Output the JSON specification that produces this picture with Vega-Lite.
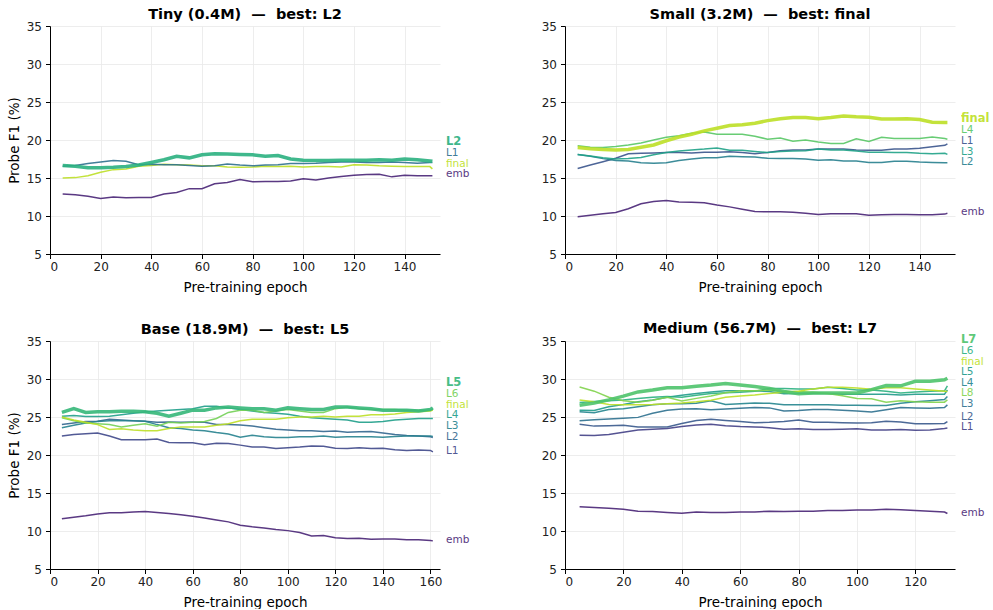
{
"$schema":"https://vega.github.io/schema/vega-lite/v6.json",
"padding":{"left":7,"top":6,"right":0,"bottom":0},
"bounds":"flush",
"columns":2,
"spacing":{"row":87,"column":125},
"resolve":{"scale":{"color":"independent"}},
"config":{
 "font":"DejaVu Sans",
 "view":{"stroke":null},
 "axis":{"domainColor":"#000","tickColor":"#000","labelColor":"#222","titleColor":"#000","gridColor":"#e8e8e8","gridWidth":0.8,"tickSize":4.5,"labelFontSize":12,"titleFontSize":13.5,"titleFontWeight":"normal","domainWidth":1,"labelFont":"DejaVu Sans","titleFont":"DejaVu Sans","labelOverlap":false,"tickCount":12},
 "axisX":{"titlePadding":8,"labelPadding":3},
 "axisY":{"titlePadding":5,"labelPadding":4},
 "title":{"fontSize":14.5,"fontWeight":"bold","offset":-2,"font":"DejaVu Sans","color":"#000"},
 "text":{"fontSize":10.5}
},
"datasets":{
"labels":[
{"panel":"Tiny","layer":"L2","f1":19.68},{"panel":"Tiny","layer":"L1","f1":18.29},{"panel":"Tiny","layer":"final","f1":16.88},{"panel":"Tiny","layer":"emb","f1":15.47},
{"panel":"Small","layer":"final","f1":22.76},{"panel":"Small","layer":"L4","f1":21.32},{"panel":"Small","layer":"L1","f1":19.91},{"panel":"Small","layer":"L3","f1":18.46},{"panel":"Small","layer":"L2","f1":17.05},{"panel":"Small","layer":"emb","f1":10.47},
{"panel":"Base","layer":"L5","f1":29.51},{"panel":"Base","layer":"L6","f1":28.06},{"panel":"Base","layer":"final","f1":26.62},{"panel":"Base","layer":"L4","f1":25.22},{"panel":"Base","layer":"L3","f1":23.82},{"panel":"Base","layer":"L2","f1":22.41},{"panel":"Base","layer":"L1","f1":20.57},{"panel":"Base","layer":"emb","f1":8.77},
{"panel":"Medium","layer":"L7","f1":35.13},{"panel":"Medium","layer":"L6","f1":33.68},{"panel":"Medium","layer":"final","f1":32.28},{"panel":"Medium","layer":"L5","f1":30.92},{"panel":"Medium","layer":"L4","f1":29.51},{"panel":"Medium","layer":"L8","f1":28.12},{"panel":"Medium","layer":"L3","f1":26.71},{"panel":"Medium","layer":"L2","f1":25.04},{"panel":"Medium","layer":"L1","f1":23.64},{"panel":"Medium","layer":"emb","f1":12.4}
],
"curves":[
{"panel":"Tiny","layer":"emb","epoch":5,"f1":12.9},{"panel":"Tiny","layer":"emb","epoch":10,"f1":12.8},{"panel":"Tiny","layer":"emb","epoch":15,"f1":12.6},{"panel":"Tiny","layer":"emb","epoch":20,"f1":12.3},{"panel":"Tiny","layer":"emb","epoch":25,"f1":12.5},{"panel":"Tiny","layer":"emb","epoch":30,"f1":12.4},{"panel":"Tiny","layer":"emb","epoch":35,"f1":12.45},{"panel":"Tiny","layer":"emb","epoch":40,"f1":12.45},{"panel":"Tiny","layer":"emb","epoch":45,"f1":12.9},{"panel":"Tiny","layer":"emb","epoch":50,"f1":13.1},{"panel":"Tiny","layer":"emb","epoch":55,"f1":13.6},{"panel":"Tiny","layer":"emb","epoch":60,"f1":13.6},{"panel":"Tiny","layer":"emb","epoch":65,"f1":14.25},{"panel":"Tiny","layer":"emb","epoch":70,"f1":14.4},{"panel":"Tiny","layer":"emb","epoch":75,"f1":14.8},{"panel":"Tiny","layer":"emb","epoch":80,"f1":14.5},{"panel":"Tiny","layer":"emb","epoch":85,"f1":14.55},{"panel":"Tiny","layer":"emb","epoch":90,"f1":14.55},{"panel":"Tiny","layer":"emb","epoch":95,"f1":14.6},{"panel":"Tiny","layer":"emb","epoch":100,"f1":14.9},{"panel":"Tiny","layer":"emb","epoch":105,"f1":14.75},{"panel":"Tiny","layer":"emb","epoch":110,"f1":15.0},{"panel":"Tiny","layer":"emb","epoch":115,"f1":15.2},{"panel":"Tiny","layer":"emb","epoch":120,"f1":15.35},{"panel":"Tiny","layer":"emb","epoch":125,"f1":15.45},{"panel":"Tiny","layer":"emb","epoch":130,"f1":15.5},{"panel":"Tiny","layer":"emb","epoch":135,"f1":15.15},{"panel":"Tiny","layer":"emb","epoch":140,"f1":15.35},{"panel":"Tiny","layer":"emb","epoch":145,"f1":15.3},{"panel":"Tiny","layer":"emb","epoch":150,"f1":15.3},{"panel":"Tiny","layer":"emb","epoch":151,"f1":15.3},
{"panel":"Tiny","layer":"final","epoch":5,"f1":15.0},{"panel":"Tiny","layer":"final","epoch":10,"f1":15.05},{"panel":"Tiny","layer":"final","epoch":15,"f1":15.3},{"panel":"Tiny","layer":"final","epoch":20,"f1":15.75},{"panel":"Tiny","layer":"final","epoch":25,"f1":16.1},{"panel":"Tiny","layer":"final","epoch":30,"f1":16.2},{"panel":"Tiny","layer":"final","epoch":35,"f1":16.55},{"panel":"Tiny","layer":"final","epoch":40,"f1":16.65},{"panel":"Tiny","layer":"final","epoch":45,"f1":16.8},{"panel":"Tiny","layer":"final","epoch":50,"f1":16.75},{"panel":"Tiny","layer":"final","epoch":55,"f1":16.7},{"panel":"Tiny","layer":"final","epoch":60,"f1":16.6},{"panel":"Tiny","layer":"final","epoch":65,"f1":16.6},{"panel":"Tiny","layer":"final","epoch":70,"f1":16.45},{"panel":"Tiny","layer":"final","epoch":75,"f1":16.4},{"panel":"Tiny","layer":"final","epoch":80,"f1":16.45},{"panel":"Tiny","layer":"final","epoch":85,"f1":16.55},{"panel":"Tiny","layer":"final","epoch":90,"f1":16.5},{"panel":"Tiny","layer":"final","epoch":95,"f1":16.55},{"panel":"Tiny","layer":"final","epoch":100,"f1":16.45},{"panel":"Tiny","layer":"final","epoch":105,"f1":16.5},{"panel":"Tiny","layer":"final","epoch":110,"f1":16.5},{"panel":"Tiny","layer":"final","epoch":115,"f1":16.45},{"panel":"Tiny","layer":"final","epoch":120,"f1":16.75},{"panel":"Tiny","layer":"final","epoch":125,"f1":16.7},{"panel":"Tiny","layer":"final","epoch":130,"f1":16.6},{"panel":"Tiny","layer":"final","epoch":135,"f1":16.55},{"panel":"Tiny","layer":"final","epoch":140,"f1":16.5},{"panel":"Tiny","layer":"final","epoch":145,"f1":16.5},{"panel":"Tiny","layer":"final","epoch":150,"f1":16.5},{"panel":"Tiny","layer":"final","epoch":151,"f1":16.2},
{"panel":"Tiny","layer":"L1","epoch":5,"f1":16.55},{"panel":"Tiny","layer":"L1","epoch":10,"f1":16.65},{"panel":"Tiny","layer":"L1","epoch":15,"f1":16.9},{"panel":"Tiny","layer":"L1","epoch":20,"f1":17.1},{"panel":"Tiny","layer":"L1","epoch":25,"f1":17.3},{"panel":"Tiny","layer":"L1","epoch":30,"f1":17.2},{"panel":"Tiny","layer":"L1","epoch":35,"f1":16.75},{"panel":"Tiny","layer":"L1","epoch":40,"f1":16.8},{"panel":"Tiny","layer":"L1","epoch":45,"f1":16.75},{"panel":"Tiny","layer":"L1","epoch":50,"f1":16.75},{"panel":"Tiny","layer":"L1","epoch":55,"f1":16.65},{"panel":"Tiny","layer":"L1","epoch":60,"f1":16.55},{"panel":"Tiny","layer":"L1","epoch":65,"f1":16.6},{"panel":"Tiny","layer":"L1","epoch":70,"f1":16.85},{"panel":"Tiny","layer":"L1","epoch":75,"f1":16.7},{"panel":"Tiny","layer":"L1","epoch":80,"f1":16.6},{"panel":"Tiny","layer":"L1","epoch":85,"f1":16.7},{"panel":"Tiny","layer":"L1","epoch":90,"f1":16.75},{"panel":"Tiny","layer":"L1","epoch":95,"f1":16.9},{"panel":"Tiny","layer":"L1","epoch":100,"f1":16.9},{"panel":"Tiny","layer":"L1","epoch":105,"f1":16.95},{"panel":"Tiny","layer":"L1","epoch":110,"f1":17.05},{"panel":"Tiny","layer":"L1","epoch":115,"f1":17.1},{"panel":"Tiny","layer":"L1","epoch":120,"f1":17.1},{"panel":"Tiny","layer":"L1","epoch":125,"f1":17.05},{"panel":"Tiny","layer":"L1","epoch":130,"f1":17.05},{"panel":"Tiny","layer":"L1","epoch":135,"f1":17.1},{"panel":"Tiny","layer":"L1","epoch":140,"f1":17.05},{"panel":"Tiny","layer":"L1","epoch":145,"f1":16.95},{"panel":"Tiny","layer":"L1","epoch":150,"f1":17.05},{"panel":"Tiny","layer":"L1","epoch":151,"f1":17.05},
{"panel":"Tiny","layer":"L2","epoch":5,"f1":16.65},{"panel":"Tiny","layer":"L2","epoch":10,"f1":16.55},{"panel":"Tiny","layer":"L2","epoch":15,"f1":16.35},{"panel":"Tiny","layer":"L2","epoch":20,"f1":16.35},{"panel":"Tiny","layer":"L2","epoch":25,"f1":16.4},{"panel":"Tiny","layer":"L2","epoch":30,"f1":16.5},{"panel":"Tiny","layer":"L2","epoch":35,"f1":16.7},{"panel":"Tiny","layer":"L2","epoch":40,"f1":17.05},{"panel":"Tiny","layer":"L2","epoch":45,"f1":17.4},{"panel":"Tiny","layer":"L2","epoch":50,"f1":17.85},{"panel":"Tiny","layer":"L2","epoch":55,"f1":17.65},{"panel":"Tiny","layer":"L2","epoch":60,"f1":18.05},{"panel":"Tiny","layer":"L2","epoch":65,"f1":18.2},{"panel":"Tiny","layer":"L2","epoch":70,"f1":18.15},{"panel":"Tiny","layer":"L2","epoch":75,"f1":18.1},{"panel":"Tiny","layer":"L2","epoch":80,"f1":18.05},{"panel":"Tiny","layer":"L2","epoch":85,"f1":17.85},{"panel":"Tiny","layer":"L2","epoch":90,"f1":17.95},{"panel":"Tiny","layer":"L2","epoch":95,"f1":17.5},{"panel":"Tiny","layer":"L2","epoch":100,"f1":17.35},{"panel":"Tiny","layer":"L2","epoch":105,"f1":17.3},{"panel":"Tiny","layer":"L2","epoch":110,"f1":17.3},{"panel":"Tiny","layer":"L2","epoch":115,"f1":17.35},{"panel":"Tiny","layer":"L2","epoch":120,"f1":17.35},{"panel":"Tiny","layer":"L2","epoch":125,"f1":17.35},{"panel":"Tiny","layer":"L2","epoch":130,"f1":17.4},{"panel":"Tiny","layer":"L2","epoch":135,"f1":17.35},{"panel":"Tiny","layer":"L2","epoch":140,"f1":17.5},{"panel":"Tiny","layer":"L2","epoch":145,"f1":17.4},{"panel":"Tiny","layer":"L2","epoch":150,"f1":17.25},{"panel":"Tiny","layer":"L2","epoch":151,"f1":17.2},
{"panel":"Small","layer":"emb","epoch":5,"f1":9.9},{"panel":"Small","layer":"emb","epoch":10,"f1":10.1},{"panel":"Small","layer":"emb","epoch":15,"f1":10.3},{"panel":"Small","layer":"emb","epoch":20,"f1":10.45},{"panel":"Small","layer":"emb","epoch":25,"f1":10.95},{"panel":"Small","layer":"emb","epoch":30,"f1":11.6},{"panel":"Small","layer":"emb","epoch":35,"f1":11.9},{"panel":"Small","layer":"emb","epoch":40,"f1":12.05},{"panel":"Small","layer":"emb","epoch":45,"f1":11.85},{"panel":"Small","layer":"emb","epoch":50,"f1":11.8},{"panel":"Small","layer":"emb","epoch":55,"f1":11.75},{"panel":"Small","layer":"emb","epoch":60,"f1":11.45},{"panel":"Small","layer":"emb","epoch":65,"f1":11.2},{"panel":"Small","layer":"emb","epoch":70,"f1":10.9},{"panel":"Small","layer":"emb","epoch":75,"f1":10.6},{"panel":"Small","layer":"emb","epoch":80,"f1":10.55},{"panel":"Small","layer":"emb","epoch":85,"f1":10.55},{"panel":"Small","layer":"emb","epoch":90,"f1":10.5},{"panel":"Small","layer":"emb","epoch":95,"f1":10.35},{"panel":"Small","layer":"emb","epoch":100,"f1":10.2},{"panel":"Small","layer":"emb","epoch":105,"f1":10.3},{"panel":"Small","layer":"emb","epoch":110,"f1":10.3},{"panel":"Small","layer":"emb","epoch":115,"f1":10.3},{"panel":"Small","layer":"emb","epoch":120,"f1":10.1},{"panel":"Small","layer":"emb","epoch":125,"f1":10.15},{"panel":"Small","layer":"emb","epoch":130,"f1":10.2},{"panel":"Small","layer":"emb","epoch":135,"f1":10.2},{"panel":"Small","layer":"emb","epoch":140,"f1":10.15},{"panel":"Small","layer":"emb","epoch":145,"f1":10.15},{"panel":"Small","layer":"emb","epoch":150,"f1":10.25},{"panel":"Small","layer":"emb","epoch":151,"f1":10.35},
{"panel":"Small","layer":"L1","epoch":5,"f1":16.25},{"panel":"Small","layer":"L1","epoch":10,"f1":16.7},{"panel":"Small","layer":"L1","epoch":15,"f1":17.15},{"panel":"Small","layer":"L1","epoch":20,"f1":17.6},{"panel":"Small","layer":"L1","epoch":25,"f1":18.2},{"panel":"Small","layer":"L1","epoch":30,"f1":18.25},{"panel":"Small","layer":"L1","epoch":35,"f1":18.3},{"panel":"Small","layer":"L1","epoch":40,"f1":18.35},{"panel":"Small","layer":"L1","epoch":45,"f1":18.35},{"panel":"Small","layer":"L1","epoch":50,"f1":18.3},{"panel":"Small","layer":"L1","epoch":55,"f1":18.4},{"panel":"Small","layer":"L1","epoch":60,"f1":18.4},{"panel":"Small","layer":"L1","epoch":65,"f1":18.45},{"panel":"Small","layer":"L1","epoch":70,"f1":18.35},{"panel":"Small","layer":"L1","epoch":75,"f1":18.2},{"panel":"Small","layer":"L1","epoch":80,"f1":18.35},{"panel":"Small","layer":"L1","epoch":85,"f1":18.6},{"panel":"Small","layer":"L1","epoch":90,"f1":18.7},{"panel":"Small","layer":"L1","epoch":95,"f1":18.7},{"panel":"Small","layer":"L1","epoch":100,"f1":18.8},{"panel":"Small","layer":"L1","epoch":105,"f1":18.8},{"panel":"Small","layer":"L1","epoch":110,"f1":18.8},{"panel":"Small","layer":"L1","epoch":115,"f1":18.7},{"panel":"Small","layer":"L1","epoch":120,"f1":18.65},{"panel":"Small","layer":"L1","epoch":125,"f1":18.65},{"panel":"Small","layer":"L1","epoch":130,"f1":18.8},{"panel":"Small","layer":"L1","epoch":135,"f1":18.8},{"panel":"Small","layer":"L1","epoch":140,"f1":18.9},{"panel":"Small","layer":"L1","epoch":145,"f1":19.1},{"panel":"Small","layer":"L1","epoch":150,"f1":19.3},{"panel":"Small","layer":"L1","epoch":151,"f1":19.5},
{"panel":"Small","layer":"L2","epoch":5,"f1":18.1},{"panel":"Small","layer":"L2","epoch":10,"f1":17.85},{"panel":"Small","layer":"L2","epoch":15,"f1":17.55},{"panel":"Small","layer":"L2","epoch":20,"f1":17.3},{"panel":"Small","layer":"L2","epoch":25,"f1":17.25},{"panel":"Small","layer":"L2","epoch":30,"f1":17.0},{"panel":"Small","layer":"L2","epoch":35,"f1":16.95},{"panel":"Small","layer":"L2","epoch":40,"f1":17.0},{"panel":"Small","layer":"L2","epoch":45,"f1":17.3},{"panel":"Small","layer":"L2","epoch":50,"f1":17.5},{"panel":"Small","layer":"L2","epoch":55,"f1":17.65},{"panel":"Small","layer":"L2","epoch":60,"f1":17.65},{"panel":"Small","layer":"L2","epoch":65,"f1":17.85},{"panel":"Small","layer":"L2","epoch":70,"f1":17.8},{"panel":"Small","layer":"L2","epoch":75,"f1":17.75},{"panel":"Small","layer":"L2","epoch":80,"f1":17.6},{"panel":"Small","layer":"L2","epoch":85,"f1":17.55},{"panel":"Small","layer":"L2","epoch":90,"f1":17.55},{"panel":"Small","layer":"L2","epoch":95,"f1":17.5},{"panel":"Small","layer":"L2","epoch":100,"f1":17.35},{"panel":"Small","layer":"L2","epoch":105,"f1":17.4},{"panel":"Small","layer":"L2","epoch":110,"f1":17.25},{"panel":"Small","layer":"L2","epoch":115,"f1":17.25},{"panel":"Small","layer":"L2","epoch":120,"f1":17.05},{"panel":"Small","layer":"L2","epoch":125,"f1":17.05},{"panel":"Small","layer":"L2","epoch":130,"f1":17.2},{"panel":"Small","layer":"L2","epoch":135,"f1":17.2},{"panel":"Small","layer":"L2","epoch":140,"f1":17.1},{"panel":"Small","layer":"L2","epoch":145,"f1":17.05},{"panel":"Small","layer":"L2","epoch":150,"f1":17.0},{"panel":"Small","layer":"L2","epoch":151,"f1":17.0},
{"panel":"Small","layer":"L3","epoch":5,"f1":18.1},{"panel":"Small","layer":"L3","epoch":10,"f1":17.9},{"panel":"Small","layer":"L3","epoch":15,"f1":17.65},{"panel":"Small","layer":"L3","epoch":20,"f1":17.5},{"panel":"Small","layer":"L3","epoch":25,"f1":17.55},{"panel":"Small","layer":"L3","epoch":30,"f1":17.7},{"panel":"Small","layer":"L3","epoch":35,"f1":18.05},{"panel":"Small","layer":"L3","epoch":40,"f1":18.35},{"panel":"Small","layer":"L3","epoch":45,"f1":18.55},{"panel":"Small","layer":"L3","epoch":50,"f1":18.7},{"panel":"Small","layer":"L3","epoch":55,"f1":18.8},{"panel":"Small","layer":"L3","epoch":60,"f1":18.95},{"panel":"Small","layer":"L3","epoch":65,"f1":18.65},{"panel":"Small","layer":"L3","epoch":70,"f1":18.65},{"panel":"Small","layer":"L3","epoch":75,"f1":18.5},{"panel":"Small","layer":"L3","epoch":80,"f1":18.35},{"panel":"Small","layer":"L3","epoch":85,"f1":18.5},{"panel":"Small","layer":"L3","epoch":90,"f1":18.55},{"panel":"Small","layer":"L3","epoch":95,"f1":18.6},{"panel":"Small","layer":"L3","epoch":100,"f1":18.8},{"panel":"Small","layer":"L3","epoch":105,"f1":18.7},{"panel":"Small","layer":"L3","epoch":110,"f1":18.7},{"panel":"Small","layer":"L3","epoch":115,"f1":18.55},{"panel":"Small","layer":"L3","epoch":120,"f1":18.4},{"panel":"Small","layer":"L3","epoch":125,"f1":18.4},{"panel":"Small","layer":"L3","epoch":130,"f1":18.35},{"panel":"Small","layer":"L3","epoch":135,"f1":18.35},{"panel":"Small","layer":"L3","epoch":140,"f1":18.25},{"panel":"Small","layer":"L3","epoch":145,"f1":18.2},{"panel":"Small","layer":"L3","epoch":150,"f1":18.25},{"panel":"Small","layer":"L3","epoch":151,"f1":18.1},
{"panel":"Small","layer":"L4","epoch":5,"f1":19.25},{"panel":"Small","layer":"L4","epoch":10,"f1":19.05},{"panel":"Small","layer":"L4","epoch":15,"f1":19.0},{"panel":"Small","layer":"L4","epoch":20,"f1":19.15},{"panel":"Small","layer":"L4","epoch":25,"f1":19.35},{"panel":"Small","layer":"L4","epoch":30,"f1":19.6},{"panel":"Small","layer":"L4","epoch":35,"f1":20.0},{"panel":"Small","layer":"L4","epoch":40,"f1":20.35},{"panel":"Small","layer":"L4","epoch":45,"f1":20.55},{"panel":"Small","layer":"L4","epoch":50,"f1":20.9},{"panel":"Small","layer":"L4","epoch":55,"f1":21.05},{"panel":"Small","layer":"L4","epoch":60,"f1":20.75},{"panel":"Small","layer":"L4","epoch":65,"f1":20.75},{"panel":"Small","layer":"L4","epoch":70,"f1":20.75},{"panel":"Small","layer":"L4","epoch":75,"f1":20.5},{"panel":"Small","layer":"L4","epoch":80,"f1":20.1},{"panel":"Small","layer":"L4","epoch":85,"f1":20.25},{"panel":"Small","layer":"L4","epoch":90,"f1":19.85},{"panel":"Small","layer":"L4","epoch":95,"f1":20.0},{"panel":"Small","layer":"L4","epoch":100,"f1":19.75},{"panel":"Small","layer":"L4","epoch":105,"f1":19.55},{"panel":"Small","layer":"L4","epoch":110,"f1":19.55},{"panel":"Small","layer":"L4","epoch":115,"f1":20.15},{"panel":"Small","layer":"L4","epoch":120,"f1":19.8},{"panel":"Small","layer":"L4","epoch":125,"f1":20.35},{"panel":"Small","layer":"L4","epoch":130,"f1":20.2},{"panel":"Small","layer":"L4","epoch":135,"f1":20.2},{"panel":"Small","layer":"L4","epoch":140,"f1":20.2},{"panel":"Small","layer":"L4","epoch":145,"f1":20.4},{"panel":"Small","layer":"L4","epoch":150,"f1":20.2},{"panel":"Small","layer":"L4","epoch":151,"f1":20.1},
{"panel":"Small","layer":"final","epoch":5,"f1":19.0},{"panel":"Small","layer":"final","epoch":10,"f1":18.85},{"panel":"Small","layer":"final","epoch":15,"f1":18.75},{"panel":"Small","layer":"final","epoch":20,"f1":18.7},{"panel":"Small","layer":"final","epoch":25,"f1":18.75},{"panel":"Small","layer":"final","epoch":30,"f1":19.05},{"panel":"Small","layer":"final","epoch":35,"f1":19.35},{"panel":"Small","layer":"final","epoch":40,"f1":19.9},{"panel":"Small","layer":"final","epoch":45,"f1":20.4},{"panel":"Small","layer":"final","epoch":50,"f1":20.75},{"panel":"Small","layer":"final","epoch":55,"f1":21.2},{"panel":"Small","layer":"final","epoch":60,"f1":21.55},{"panel":"Small","layer":"final","epoch":65,"f1":21.9},{"panel":"Small","layer":"final","epoch":70,"f1":22.0},{"panel":"Small","layer":"final","epoch":75,"f1":22.2},{"panel":"Small","layer":"final","epoch":80,"f1":22.55},{"panel":"Small","layer":"final","epoch":85,"f1":22.8},{"panel":"Small","layer":"final","epoch":90,"f1":22.95},{"panel":"Small","layer":"final","epoch":95,"f1":22.95},{"panel":"Small","layer":"final","epoch":100,"f1":22.8},{"panel":"Small","layer":"final","epoch":105,"f1":22.95},{"panel":"Small","layer":"final","epoch":110,"f1":23.15},{"panel":"Small","layer":"final","epoch":115,"f1":23.05},{"panel":"Small","layer":"final","epoch":120,"f1":23.0},{"panel":"Small","layer":"final","epoch":125,"f1":22.75},{"panel":"Small","layer":"final","epoch":130,"f1":22.75},{"panel":"Small","layer":"final","epoch":135,"f1":22.8},{"panel":"Small","layer":"final","epoch":140,"f1":22.7},{"panel":"Small","layer":"final","epoch":145,"f1":22.35},{"panel":"Small","layer":"final","epoch":150,"f1":22.3},{"panel":"Small","layer":"final","epoch":151,"f1":22.3},
{"panel":"Base","layer":"emb","epoch":5,"f1":11.6},{"panel":"Base","layer":"emb","epoch":10,"f1":11.8},{"panel":"Base","layer":"emb","epoch":15,"f1":12.0},{"panel":"Base","layer":"emb","epoch":20,"f1":12.25},{"panel":"Base","layer":"emb","epoch":25,"f1":12.4},{"panel":"Base","layer":"emb","epoch":30,"f1":12.4},{"panel":"Base","layer":"emb","epoch":35,"f1":12.5},{"panel":"Base","layer":"emb","epoch":40,"f1":12.55},{"panel":"Base","layer":"emb","epoch":45,"f1":12.45},{"panel":"Base","layer":"emb","epoch":50,"f1":12.3},{"panel":"Base","layer":"emb","epoch":55,"f1":12.15},{"panel":"Base","layer":"emb","epoch":60,"f1":11.95},{"panel":"Base","layer":"emb","epoch":65,"f1":11.7},{"panel":"Base","layer":"emb","epoch":70,"f1":11.45},{"panel":"Base","layer":"emb","epoch":75,"f1":11.2},{"panel":"Base","layer":"emb","epoch":80,"f1":10.75},{"panel":"Base","layer":"emb","epoch":85,"f1":10.55},{"panel":"Base","layer":"emb","epoch":90,"f1":10.4},{"panel":"Base","layer":"emb","epoch":95,"f1":10.2},{"panel":"Base","layer":"emb","epoch":100,"f1":10.05},{"panel":"Base","layer":"emb","epoch":105,"f1":9.8},{"panel":"Base","layer":"emb","epoch":110,"f1":9.35},{"panel":"Base","layer":"emb","epoch":115,"f1":9.4},{"panel":"Base","layer":"emb","epoch":120,"f1":9.1},{"panel":"Base","layer":"emb","epoch":125,"f1":9.0},{"panel":"Base","layer":"emb","epoch":130,"f1":9.05},{"panel":"Base","layer":"emb","epoch":135,"f1":8.9},{"panel":"Base","layer":"emb","epoch":140,"f1":8.95},{"panel":"Base","layer":"emb","epoch":145,"f1":8.95},{"panel":"Base","layer":"emb","epoch":150,"f1":8.85},{"panel":"Base","layer":"emb","epoch":155,"f1":8.85},{"panel":"Base","layer":"emb","epoch":160,"f1":8.75},{"panel":"Base","layer":"emb","epoch":161,"f1":8.7},
{"panel":"Base","layer":"L1","epoch":5,"f1":22.5},{"panel":"Base","layer":"L1","epoch":10,"f1":22.7},{"panel":"Base","layer":"L1","epoch":15,"f1":22.8},{"panel":"Base","layer":"L1","epoch":20,"f1":22.9},{"panel":"Base","layer":"L1","epoch":25,"f1":22.5},{"panel":"Base","layer":"L1","epoch":30,"f1":22.0},{"panel":"Base","layer":"L1","epoch":35,"f1":22.0},{"panel":"Base","layer":"L1","epoch":40,"f1":22.0},{"panel":"Base","layer":"L1","epoch":45,"f1":22.1},{"panel":"Base","layer":"L1","epoch":50,"f1":21.65},{"panel":"Base","layer":"L1","epoch":55,"f1":21.6},{"panel":"Base","layer":"L1","epoch":60,"f1":21.6},{"panel":"Base","layer":"L1","epoch":65,"f1":21.35},{"panel":"Base","layer":"L1","epoch":70,"f1":21.55},{"panel":"Base","layer":"L1","epoch":75,"f1":21.5},{"panel":"Base","layer":"L1","epoch":80,"f1":21.3},{"panel":"Base","layer":"L1","epoch":85,"f1":21.05},{"panel":"Base","layer":"L1","epoch":90,"f1":21.05},{"panel":"Base","layer":"L1","epoch":95,"f1":20.85},{"panel":"Base","layer":"L1","epoch":100,"f1":20.95},{"panel":"Base","layer":"L1","epoch":105,"f1":21.05},{"panel":"Base","layer":"L1","epoch":110,"f1":21.2},{"panel":"Base","layer":"L1","epoch":115,"f1":21.15},{"panel":"Base","layer":"L1","epoch":120,"f1":20.9},{"panel":"Base","layer":"L1","epoch":125,"f1":20.85},{"panel":"Base","layer":"L1","epoch":130,"f1":20.95},{"panel":"Base","layer":"L1","epoch":135,"f1":20.85},{"panel":"Base","layer":"L1","epoch":140,"f1":20.9},{"panel":"Base","layer":"L1","epoch":145,"f1":20.7},{"panel":"Base","layer":"L1","epoch":150,"f1":20.6},{"panel":"Base","layer":"L1","epoch":155,"f1":20.65},{"panel":"Base","layer":"L1","epoch":160,"f1":20.6},{"panel":"Base","layer":"L1","epoch":161,"f1":20.4},
{"panel":"Base","layer":"L2","epoch":5,"f1":24.0},{"panel":"Base","layer":"L2","epoch":10,"f1":24.2},{"panel":"Base","layer":"L2","epoch":15,"f1":24.4},{"panel":"Base","layer":"L2","epoch":20,"f1":24.45},{"panel":"Base","layer":"L2","epoch":25,"f1":24.7},{"panel":"Base","layer":"L2","epoch":30,"f1":24.6},{"panel":"Base","layer":"L2","epoch":35,"f1":24.5},{"panel":"Base","layer":"L2","epoch":40,"f1":24.45},{"panel":"Base","layer":"L2","epoch":45,"f1":24.3},{"panel":"Base","layer":"L2","epoch":50,"f1":24.35},{"panel":"Base","layer":"L2","epoch":55,"f1":24.3},{"panel":"Base","layer":"L2","epoch":60,"f1":24.35},{"panel":"Base","layer":"L2","epoch":65,"f1":24.3},{"panel":"Base","layer":"L2","epoch":70,"f1":24.0},{"panel":"Base","layer":"L2","epoch":75,"f1":24.0},{"panel":"Base","layer":"L2","epoch":80,"f1":23.95},{"panel":"Base","layer":"L2","epoch":85,"f1":23.8},{"panel":"Base","layer":"L2","epoch":90,"f1":23.6},{"panel":"Base","layer":"L2","epoch":95,"f1":23.4},{"panel":"Base","layer":"L2","epoch":100,"f1":23.3},{"panel":"Base","layer":"L2","epoch":105,"f1":23.2},{"panel":"Base","layer":"L2","epoch":110,"f1":23.2},{"panel":"Base","layer":"L2","epoch":115,"f1":23.1},{"panel":"Base","layer":"L2","epoch":120,"f1":23.15},{"panel":"Base","layer":"L2","epoch":125,"f1":23.0},{"panel":"Base","layer":"L2","epoch":130,"f1":23.05},{"panel":"Base","layer":"L2","epoch":135,"f1":23.1},{"panel":"Base","layer":"L2","epoch":140,"f1":22.9},{"panel":"Base","layer":"L2","epoch":145,"f1":22.7},{"panel":"Base","layer":"L2","epoch":150,"f1":22.55},{"panel":"Base","layer":"L2","epoch":155,"f1":22.5},{"panel":"Base","layer":"L2","epoch":160,"f1":22.4},{"panel":"Base","layer":"L2","epoch":161,"f1":22.3},
{"panel":"Base","layer":"L3","epoch":5,"f1":23.6},{"panel":"Base","layer":"L3","epoch":10,"f1":23.9},{"panel":"Base","layer":"L3","epoch":15,"f1":24.2},{"panel":"Base","layer":"L3","epoch":20,"f1":24.4},{"panel":"Base","layer":"L3","epoch":25,"f1":24.5},{"panel":"Base","layer":"L3","epoch":30,"f1":24.5},{"panel":"Base","layer":"L3","epoch":35,"f1":24.5},{"panel":"Base","layer":"L3","epoch":40,"f1":24.45},{"panel":"Base","layer":"L3","epoch":45,"f1":24.0},{"panel":"Base","layer":"L3","epoch":50,"f1":23.6},{"panel":"Base","layer":"L3","epoch":55,"f1":23.5},{"panel":"Base","layer":"L3","epoch":60,"f1":23.3},{"panel":"Base","layer":"L3","epoch":65,"f1":23.2},{"panel":"Base","layer":"L3","epoch":70,"f1":22.95},{"panel":"Base","layer":"L3","epoch":75,"f1":22.75},{"panel":"Base","layer":"L3","epoch":80,"f1":22.35},{"panel":"Base","layer":"L3","epoch":85,"f1":22.6},{"panel":"Base","layer":"L3","epoch":90,"f1":22.4},{"panel":"Base","layer":"L3","epoch":95,"f1":22.3},{"panel":"Base","layer":"L3","epoch":100,"f1":22.3},{"panel":"Base","layer":"L3","epoch":105,"f1":22.4},{"panel":"Base","layer":"L3","epoch":110,"f1":22.4},{"panel":"Base","layer":"L3","epoch":115,"f1":22.5},{"panel":"Base","layer":"L3","epoch":120,"f1":22.35},{"panel":"Base","layer":"L3","epoch":125,"f1":22.4},{"panel":"Base","layer":"L3","epoch":130,"f1":22.4},{"panel":"Base","layer":"L3","epoch":135,"f1":22.4},{"panel":"Base","layer":"L3","epoch":140,"f1":22.35},{"panel":"Base","layer":"L3","epoch":145,"f1":22.45},{"panel":"Base","layer":"L3","epoch":150,"f1":22.5},{"panel":"Base","layer":"L3","epoch":155,"f1":22.5},{"panel":"Base","layer":"L3","epoch":160,"f1":22.5},{"panel":"Base","layer":"L3","epoch":161,"f1":22.45},
{"panel":"Base","layer":"L4","epoch":5,"f1":25.1},{"panel":"Base","layer":"L4","epoch":10,"f1":25.2},{"panel":"Base","layer":"L4","epoch":15,"f1":25.05},{"panel":"Base","layer":"L4","epoch":20,"f1":25.05},{"panel":"Base","layer":"L4","epoch":25,"f1":25.1},{"panel":"Base","layer":"L4","epoch":30,"f1":25.3},{"panel":"Base","layer":"L4","epoch":35,"f1":25.5},{"panel":"Base","layer":"L4","epoch":40,"f1":25.65},{"panel":"Base","layer":"L4","epoch":45,"f1":25.8},{"panel":"Base","layer":"L4","epoch":50,"f1":25.9},{"panel":"Base","layer":"L4","epoch":55,"f1":26.0},{"panel":"Base","layer":"L4","epoch":60,"f1":26.1},{"panel":"Base","layer":"L4","epoch":65,"f1":26.4},{"panel":"Base","layer":"L4","epoch":70,"f1":26.4},{"panel":"Base","layer":"L4","epoch":75,"f1":26.2},{"panel":"Base","layer":"L4","epoch":80,"f1":26.0},{"panel":"Base","layer":"L4","epoch":85,"f1":25.8},{"panel":"Base","layer":"L4","epoch":90,"f1":25.6},{"panel":"Base","layer":"L4","epoch":95,"f1":25.5},{"panel":"Base","layer":"L4","epoch":100,"f1":25.35},{"panel":"Base","layer":"L4","epoch":105,"f1":25.1},{"panel":"Base","layer":"L4","epoch":110,"f1":24.9},{"panel":"Base","layer":"L4","epoch":115,"f1":24.8},{"panel":"Base","layer":"L4","epoch":120,"f1":24.7},{"panel":"Base","layer":"L4","epoch":125,"f1":24.6},{"panel":"Base","layer":"L4","epoch":130,"f1":24.3},{"panel":"Base","layer":"L4","epoch":135,"f1":24.3},{"panel":"Base","layer":"L4","epoch":140,"f1":24.4},{"panel":"Base","layer":"L4","epoch":145,"f1":24.6},{"panel":"Base","layer":"L4","epoch":150,"f1":24.7},{"panel":"Base","layer":"L4","epoch":155,"f1":24.8},{"panel":"Base","layer":"L4","epoch":160,"f1":24.8},{"panel":"Base","layer":"L4","epoch":161,"f1":24.8},
{"panel":"Base","layer":"L5","epoch":5,"f1":25.6},{"panel":"Base","layer":"L5","epoch":10,"f1":26.1},{"panel":"Base","layer":"L5","epoch":15,"f1":25.6},{"panel":"Base","layer":"L5","epoch":20,"f1":25.7},{"panel":"Base","layer":"L5","epoch":25,"f1":25.7},{"panel":"Base","layer":"L5","epoch":30,"f1":25.75},{"panel":"Base","layer":"L5","epoch":35,"f1":25.75},{"panel":"Base","layer":"L5","epoch":40,"f1":25.7},{"panel":"Base","layer":"L5","epoch":45,"f1":25.5},{"panel":"Base","layer":"L5","epoch":50,"f1":25.1},{"panel":"Base","layer":"L5","epoch":55,"f1":25.5},{"panel":"Base","layer":"L5","epoch":60,"f1":25.9},{"panel":"Base","layer":"L5","epoch":65,"f1":25.9},{"panel":"Base","layer":"L5","epoch":70,"f1":26.2},{"panel":"Base","layer":"L5","epoch":75,"f1":26.3},{"panel":"Base","layer":"L5","epoch":80,"f1":26.2},{"panel":"Base","layer":"L5","epoch":85,"f1":26.1},{"panel":"Base","layer":"L5","epoch":90,"f1":26.1},{"panel":"Base","layer":"L5","epoch":95,"f1":25.9},{"panel":"Base","layer":"L5","epoch":100,"f1":26.2},{"panel":"Base","layer":"L5","epoch":105,"f1":26.1},{"panel":"Base","layer":"L5","epoch":110,"f1":26.0},{"panel":"Base","layer":"L5","epoch":115,"f1":26.0},{"panel":"Base","layer":"L5","epoch":120,"f1":26.3},{"panel":"Base","layer":"L5","epoch":125,"f1":26.3},{"panel":"Base","layer":"L5","epoch":130,"f1":26.2},{"panel":"Base","layer":"L5","epoch":135,"f1":26.1},{"panel":"Base","layer":"L5","epoch":140,"f1":25.9},{"panel":"Base","layer":"L5","epoch":145,"f1":25.9},{"panel":"Base","layer":"L5","epoch":150,"f1":25.9},{"panel":"Base","layer":"L5","epoch":155,"f1":25.8},{"panel":"Base","layer":"L5","epoch":160,"f1":26.0},{"panel":"Base","layer":"L5","epoch":161,"f1":26.2},
{"panel":"Base","layer":"L6","epoch":5,"f1":24.9},{"panel":"Base","layer":"L6","epoch":10,"f1":24.5},{"panel":"Base","layer":"L6","epoch":15,"f1":24.2},{"panel":"Base","layer":"L6","epoch":20,"f1":24.1},{"panel":"Base","layer":"L6","epoch":25,"f1":24.0},{"panel":"Base","layer":"L6","epoch":30,"f1":23.7},{"panel":"Base","layer":"L6","epoch":35,"f1":23.9},{"panel":"Base","layer":"L6","epoch":40,"f1":24.1},{"panel":"Base","layer":"L6","epoch":45,"f1":23.8},{"panel":"Base","layer":"L6","epoch":50,"f1":24.3},{"panel":"Base","layer":"L6","epoch":55,"f1":24.2},{"panel":"Base","layer":"L6","epoch":60,"f1":24.3},{"panel":"Base","layer":"L6","epoch":65,"f1":24.4},{"panel":"Base","layer":"L6","epoch":70,"f1":24.8},{"panel":"Base","layer":"L6","epoch":75,"f1":25.6},{"panel":"Base","layer":"L6","epoch":80,"f1":25.9},{"panel":"Base","layer":"L6","epoch":85,"f1":25.9},{"panel":"Base","layer":"L6","epoch":90,"f1":25.6},{"panel":"Base","layer":"L6","epoch":95,"f1":25.8},{"panel":"Base","layer":"L6","epoch":100,"f1":26.0},{"panel":"Base","layer":"L6","epoch":105,"f1":25.8},{"panel":"Base","layer":"L6","epoch":110,"f1":25.6},{"panel":"Base","layer":"L6","epoch":115,"f1":25.6},{"panel":"Base","layer":"L6","epoch":120,"f1":26.1},{"panel":"Base","layer":"L6","epoch":125,"f1":26.3},{"panel":"Base","layer":"L6","epoch":130,"f1":26.1},{"panel":"Base","layer":"L6","epoch":135,"f1":26.0},{"panel":"Base","layer":"L6","epoch":140,"f1":26.0},{"panel":"Base","layer":"L6","epoch":145,"f1":26.0},{"panel":"Base","layer":"L6","epoch":150,"f1":25.9},{"panel":"Base","layer":"L6","epoch":155,"f1":25.9},{"panel":"Base","layer":"L6","epoch":160,"f1":25.9},{"panel":"Base","layer":"L6","epoch":161,"f1":26.0},
{"panel":"Base","layer":"final","epoch":5,"f1":25.0},{"panel":"Base","layer":"final","epoch":10,"f1":24.6},{"panel":"Base","layer":"final","epoch":15,"f1":24.3},{"panel":"Base","layer":"final","epoch":20,"f1":24.0},{"panel":"Base","layer":"final","epoch":25,"f1":23.35},{"panel":"Base","layer":"final","epoch":30,"f1":23.45},{"panel":"Base","layer":"final","epoch":35,"f1":23.3},{"panel":"Base","layer":"final","epoch":40,"f1":23.2},{"panel":"Base","layer":"final","epoch":45,"f1":23.2},{"panel":"Base","layer":"final","epoch":50,"f1":23.5},{"panel":"Base","layer":"final","epoch":55,"f1":23.7},{"panel":"Base","layer":"final","epoch":60,"f1":23.7},{"panel":"Base","layer":"final","epoch":65,"f1":23.7},{"panel":"Base","layer":"final","epoch":70,"f1":23.9},{"panel":"Base","layer":"final","epoch":75,"f1":24.1},{"panel":"Base","layer":"final","epoch":80,"f1":24.5},{"panel":"Base","layer":"final","epoch":85,"f1":24.7},{"panel":"Base","layer":"final","epoch":90,"f1":24.7},{"panel":"Base","layer":"final","epoch":95,"f1":24.7},{"panel":"Base","layer":"final","epoch":100,"f1":24.9},{"panel":"Base","layer":"final","epoch":105,"f1":25.0},{"panel":"Base","layer":"final","epoch":110,"f1":25.0},{"panel":"Base","layer":"final","epoch":115,"f1":25.1},{"panel":"Base","layer":"final","epoch":120,"f1":25.0},{"panel":"Base","layer":"final","epoch":125,"f1":25.1},{"panel":"Base","layer":"final","epoch":130,"f1":25.1},{"panel":"Base","layer":"final","epoch":135,"f1":25.3},{"panel":"Base","layer":"final","epoch":140,"f1":25.3},{"panel":"Base","layer":"final","epoch":145,"f1":25.4},{"panel":"Base","layer":"final","epoch":150,"f1":25.6},{"panel":"Base","layer":"final","epoch":155,"f1":25.7},{"panel":"Base","layer":"final","epoch":160,"f1":25.8},{"panel":"Base","layer":"final","epoch":161,"f1":25.9},
{"panel":"Medium","layer":"emb","epoch":5,"f1":13.2},{"panel":"Medium","layer":"emb","epoch":10,"f1":13.1},{"panel":"Medium","layer":"emb","epoch":15,"f1":13.0},{"panel":"Medium","layer":"emb","epoch":20,"f1":12.85},{"panel":"Medium","layer":"emb","epoch":25,"f1":12.6},{"panel":"Medium","layer":"emb","epoch":30,"f1":12.55},{"panel":"Medium","layer":"emb","epoch":35,"f1":12.45},{"panel":"Medium","layer":"emb","epoch":40,"f1":12.35},{"panel":"Medium","layer":"emb","epoch":45,"f1":12.5},{"panel":"Medium","layer":"emb","epoch":50,"f1":12.45},{"panel":"Medium","layer":"emb","epoch":55,"f1":12.45},{"panel":"Medium","layer":"emb","epoch":60,"f1":12.5},{"panel":"Medium","layer":"emb","epoch":65,"f1":12.5},{"panel":"Medium","layer":"emb","epoch":70,"f1":12.6},{"panel":"Medium","layer":"emb","epoch":75,"f1":12.55},{"panel":"Medium","layer":"emb","epoch":80,"f1":12.6},{"panel":"Medium","layer":"emb","epoch":85,"f1":12.6},{"panel":"Medium","layer":"emb","epoch":90,"f1":12.7},{"panel":"Medium","layer":"emb","epoch":95,"f1":12.7},{"panel":"Medium","layer":"emb","epoch":100,"f1":12.75},{"panel":"Medium","layer":"emb","epoch":105,"f1":12.75},{"panel":"Medium","layer":"emb","epoch":110,"f1":12.85},{"panel":"Medium","layer":"emb","epoch":115,"f1":12.8},{"panel":"Medium","layer":"emb","epoch":120,"f1":12.7},{"panel":"Medium","layer":"emb","epoch":125,"f1":12.6},{"panel":"Medium","layer":"emb","epoch":130,"f1":12.5},{"panel":"Medium","layer":"emb","epoch":131,"f1":12.3},
{"panel":"Medium","layer":"L1","epoch":5,"f1":22.6},{"panel":"Medium","layer":"L1","epoch":10,"f1":22.55},{"panel":"Medium","layer":"L1","epoch":15,"f1":22.7},{"panel":"Medium","layer":"L1","epoch":20,"f1":23.0},{"panel":"Medium","layer":"L1","epoch":25,"f1":23.3},{"panel":"Medium","layer":"L1","epoch":30,"f1":23.4},{"panel":"Medium","layer":"L1","epoch":35,"f1":23.5},{"panel":"Medium","layer":"L1","epoch":40,"f1":23.75},{"panel":"Medium","layer":"L1","epoch":45,"f1":23.95},{"panel":"Medium","layer":"L1","epoch":50,"f1":24.05},{"panel":"Medium","layer":"L1","epoch":55,"f1":23.85},{"panel":"Medium","layer":"L1","epoch":60,"f1":23.75},{"panel":"Medium","layer":"L1","epoch":65,"f1":23.7},{"panel":"Medium","layer":"L1","epoch":70,"f1":23.6},{"panel":"Medium","layer":"L1","epoch":75,"f1":23.4},{"panel":"Medium","layer":"L1","epoch":80,"f1":23.45},{"panel":"Medium","layer":"L1","epoch":85,"f1":23.35},{"panel":"Medium","layer":"L1","epoch":90,"f1":23.35},{"panel":"Medium","layer":"L1","epoch":95,"f1":23.4},{"panel":"Medium","layer":"L1","epoch":100,"f1":23.45},{"panel":"Medium","layer":"L1","epoch":105,"f1":23.3},{"panel":"Medium","layer":"L1","epoch":110,"f1":23.3},{"panel":"Medium","layer":"L1","epoch":115,"f1":23.35},{"panel":"Medium","layer":"L1","epoch":120,"f1":23.25},{"panel":"Medium","layer":"L1","epoch":125,"f1":23.3},{"panel":"Medium","layer":"L1","epoch":130,"f1":23.5},{"panel":"Medium","layer":"L1","epoch":131,"f1":23.55},
{"panel":"Medium","layer":"L2","epoch":5,"f1":24.05},{"panel":"Medium","layer":"L2","epoch":10,"f1":23.8},{"panel":"Medium","layer":"L2","epoch":15,"f1":23.85},{"panel":"Medium","layer":"L2","epoch":20,"f1":23.9},{"panel":"Medium","layer":"L2","epoch":25,"f1":23.7},{"panel":"Medium","layer":"L2","epoch":30,"f1":23.7},{"panel":"Medium","layer":"L2","epoch":35,"f1":23.7},{"panel":"Medium","layer":"L2","epoch":40,"f1":24.15},{"panel":"Medium","layer":"L2","epoch":45,"f1":24.55},{"panel":"Medium","layer":"L2","epoch":50,"f1":24.7},{"panel":"Medium","layer":"L2","epoch":55,"f1":24.55},{"panel":"Medium","layer":"L2","epoch":60,"f1":24.4},{"panel":"Medium","layer":"L2","epoch":65,"f1":24.25},{"panel":"Medium","layer":"L2","epoch":70,"f1":24.3},{"panel":"Medium","layer":"L2","epoch":75,"f1":24.4},{"panel":"Medium","layer":"L2","epoch":80,"f1":24.6},{"panel":"Medium","layer":"L2","epoch":85,"f1":24.3},{"panel":"Medium","layer":"L2","epoch":90,"f1":24.3},{"panel":"Medium","layer":"L2","epoch":95,"f1":24.25},{"panel":"Medium","layer":"L2","epoch":100,"f1":24.2},{"panel":"Medium","layer":"L2","epoch":105,"f1":24.25},{"panel":"Medium","layer":"L2","epoch":110,"f1":24.45},{"panel":"Medium","layer":"L2","epoch":115,"f1":24.35},{"panel":"Medium","layer":"L2","epoch":120,"f1":24.1},{"panel":"Medium","layer":"L2","epoch":125,"f1":24.1},{"panel":"Medium","layer":"L2","epoch":130,"f1":24.15},{"panel":"Medium","layer":"L2","epoch":131,"f1":24.4},
{"panel":"Medium","layer":"L3","epoch":5,"f1":24.5},{"panel":"Medium","layer":"L3","epoch":10,"f1":24.65},{"panel":"Medium","layer":"L3","epoch":15,"f1":24.75},{"panel":"Medium","layer":"L3","epoch":20,"f1":24.85},{"panel":"Medium","layer":"L3","epoch":25,"f1":24.95},{"panel":"Medium","layer":"L3","epoch":30,"f1":25.5},{"panel":"Medium","layer":"L3","epoch":35,"f1":25.9},{"panel":"Medium","layer":"L3","epoch":40,"f1":26.05},{"panel":"Medium","layer":"L3","epoch":45,"f1":26.1},{"panel":"Medium","layer":"L3","epoch":50,"f1":25.95},{"panel":"Medium","layer":"L3","epoch":55,"f1":26.05},{"panel":"Medium","layer":"L3","epoch":60,"f1":26.15},{"panel":"Medium","layer":"L3","epoch":65,"f1":26.25},{"panel":"Medium","layer":"L3","epoch":70,"f1":26.2},{"panel":"Medium","layer":"L3","epoch":75,"f1":25.8},{"panel":"Medium","layer":"L3","epoch":80,"f1":25.85},{"panel":"Medium","layer":"L3","epoch":85,"f1":26.0},{"panel":"Medium","layer":"L3","epoch":90,"f1":26.0},{"panel":"Medium","layer":"L3","epoch":95,"f1":25.9},{"panel":"Medium","layer":"L3","epoch":100,"f1":25.8},{"panel":"Medium","layer":"L3","epoch":105,"f1":25.65},{"panel":"Medium","layer":"L3","epoch":110,"f1":25.95},{"panel":"Medium","layer":"L3","epoch":115,"f1":26.25},{"panel":"Medium","layer":"L3","epoch":120,"f1":26.2},{"panel":"Medium","layer":"L3","epoch":125,"f1":26.15},{"panel":"Medium","layer":"L3","epoch":130,"f1":26.25},{"panel":"Medium","layer":"L3","epoch":131,"f1":26.6},
{"panel":"Medium","layer":"L4","epoch":5,"f1":25.7},{"panel":"Medium","layer":"L4","epoch":10,"f1":25.55},{"panel":"Medium","layer":"L4","epoch":15,"f1":26.0},{"panel":"Medium","layer":"L4","epoch":20,"f1":26.1},{"panel":"Medium","layer":"L4","epoch":25,"f1":26.35},{"panel":"Medium","layer":"L4","epoch":30,"f1":26.6},{"panel":"Medium","layer":"L4","epoch":35,"f1":26.75},{"panel":"Medium","layer":"L4","epoch":40,"f1":26.75},{"panel":"Medium","layer":"L4","epoch":45,"f1":26.8},{"panel":"Medium","layer":"L4","epoch":50,"f1":27.15},{"panel":"Medium","layer":"L4","epoch":55,"f1":26.65},{"panel":"Medium","layer":"L4","epoch":60,"f1":26.75},{"panel":"Medium","layer":"L4","epoch":65,"f1":26.85},{"panel":"Medium","layer":"L4","epoch":70,"f1":26.8},{"panel":"Medium","layer":"L4","epoch":75,"f1":26.6},{"panel":"Medium","layer":"L4","epoch":80,"f1":26.6},{"panel":"Medium","layer":"L4","epoch":85,"f1":26.6},{"panel":"Medium","layer":"L4","epoch":90,"f1":26.6},{"panel":"Medium","layer":"L4","epoch":95,"f1":26.55},{"panel":"Medium","layer":"L4","epoch":100,"f1":26.55},{"panel":"Medium","layer":"L4","epoch":105,"f1":26.5},{"panel":"Medium","layer":"L4","epoch":110,"f1":26.5},{"panel":"Medium","layer":"L4","epoch":115,"f1":26.8},{"panel":"Medium","layer":"L4","epoch":120,"f1":27.0},{"panel":"Medium","layer":"L4","epoch":125,"f1":27.15},{"panel":"Medium","layer":"L4","epoch":130,"f1":27.3},{"panel":"Medium","layer":"L4","epoch":131,"f1":27.7},
{"panel":"Medium","layer":"L5","epoch":5,"f1":25.9},{"panel":"Medium","layer":"L5","epoch":10,"f1":25.85},{"panel":"Medium","layer":"L5","epoch":15,"f1":26.35},{"panel":"Medium","layer":"L5","epoch":20,"f1":26.65},{"panel":"Medium","layer":"L5","epoch":25,"f1":27.0},{"panel":"Medium","layer":"L5","epoch":30,"f1":27.25},{"panel":"Medium","layer":"L5","epoch":35,"f1":27.6},{"panel":"Medium","layer":"L5","epoch":40,"f1":27.85},{"panel":"Medium","layer":"L5","epoch":45,"f1":28.1},{"panel":"Medium","layer":"L5","epoch":50,"f1":28.3},{"panel":"Medium","layer":"L5","epoch":55,"f1":28.45},{"panel":"Medium","layer":"L5","epoch":60,"f1":28.45},{"panel":"Medium","layer":"L5","epoch":65,"f1":28.45},{"panel":"Medium","layer":"L5","epoch":70,"f1":28.35},{"panel":"Medium","layer":"L5","epoch":75,"f1":28.05},{"panel":"Medium","layer":"L5","epoch":80,"f1":28.1},{"panel":"Medium","layer":"L5","epoch":85,"f1":28.1},{"panel":"Medium","layer":"L5","epoch":90,"f1":28.1},{"panel":"Medium","layer":"L5","epoch":95,"f1":28.0},{"panel":"Medium","layer":"L5","epoch":100,"f1":28.0},{"panel":"Medium","layer":"L5","epoch":105,"f1":28.0},{"panel":"Medium","layer":"L5","epoch":110,"f1":28.0},{"panel":"Medium","layer":"L5","epoch":115,"f1":27.9},{"panel":"Medium","layer":"L5","epoch":120,"f1":28.0},{"panel":"Medium","layer":"L5","epoch":125,"f1":28.0},{"panel":"Medium","layer":"L5","epoch":130,"f1":28.0},{"panel":"Medium","layer":"L5","epoch":131,"f1":28.55},
{"panel":"Medium","layer":"L6","epoch":5,"f1":26.9},{"panel":"Medium","layer":"L6","epoch":10,"f1":27.05},{"panel":"Medium","layer":"L6","epoch":15,"f1":27.15},{"panel":"Medium","layer":"L6","epoch":20,"f1":27.25},{"panel":"Medium","layer":"L6","epoch":25,"f1":27.45},{"panel":"Medium","layer":"L6","epoch":30,"f1":27.6},{"panel":"Medium","layer":"L6","epoch":35,"f1":27.7},{"panel":"Medium","layer":"L6","epoch":40,"f1":27.6},{"panel":"Medium","layer":"L6","epoch":45,"f1":27.85},{"panel":"Medium","layer":"L6","epoch":50,"f1":28.1},{"panel":"Medium","layer":"L6","epoch":55,"f1":28.2},{"panel":"Medium","layer":"L6","epoch":60,"f1":28.25},{"panel":"Medium","layer":"L6","epoch":65,"f1":28.4},{"panel":"Medium","layer":"L6","epoch":70,"f1":28.75},{"panel":"Medium","layer":"L6","epoch":75,"f1":28.75},{"panel":"Medium","layer":"L6","epoch":80,"f1":28.7},{"panel":"Medium","layer":"L6","epoch":85,"f1":28.7},{"panel":"Medium","layer":"L6","epoch":90,"f1":28.9},{"panel":"Medium","layer":"L6","epoch":95,"f1":28.75},{"panel":"Medium","layer":"L6","epoch":100,"f1":28.55},{"panel":"Medium","layer":"L6","epoch":105,"f1":28.55},{"panel":"Medium","layer":"L6","epoch":110,"f1":28.4},{"panel":"Medium","layer":"L6","epoch":115,"f1":28.15},{"panel":"Medium","layer":"L6","epoch":120,"f1":28.3},{"panel":"Medium","layer":"L6","epoch":125,"f1":28.4},{"panel":"Medium","layer":"L6","epoch":130,"f1":28.45},{"panel":"Medium","layer":"L6","epoch":131,"f1":29.1},
{"panel":"Medium","layer":"L7","epoch":5,"f1":26.55},{"panel":"Medium","layer":"L7","epoch":10,"f1":26.85},{"panel":"Medium","layer":"L7","epoch":15,"f1":27.25},{"panel":"Medium","layer":"L7","epoch":20,"f1":27.75},{"panel":"Medium","layer":"L7","epoch":25,"f1":28.3},{"panel":"Medium","layer":"L7","epoch":30,"f1":28.55},{"panel":"Medium","layer":"L7","epoch":35,"f1":28.85},{"panel":"Medium","layer":"L7","epoch":40,"f1":28.85},{"panel":"Medium","layer":"L7","epoch":45,"f1":29.05},{"panel":"Medium","layer":"L7","epoch":50,"f1":29.2},{"panel":"Medium","layer":"L7","epoch":55,"f1":29.4},{"panel":"Medium","layer":"L7","epoch":60,"f1":29.2},{"panel":"Medium","layer":"L7","epoch":65,"f1":29.0},{"panel":"Medium","layer":"L7","epoch":70,"f1":28.75},{"panel":"Medium","layer":"L7","epoch":75,"f1":28.35},{"panel":"Medium","layer":"L7","epoch":80,"f1":28.05},{"panel":"Medium","layer":"L7","epoch":85,"f1":28.15},{"panel":"Medium","layer":"L7","epoch":90,"f1":28.15},{"panel":"Medium","layer":"L7","epoch":95,"f1":28.15},{"panel":"Medium","layer":"L7","epoch":100,"f1":28.15},{"panel":"Medium","layer":"L7","epoch":105,"f1":28.6},{"panel":"Medium","layer":"L7","epoch":110,"f1":29.15},{"panel":"Medium","layer":"L7","epoch":115,"f1":29.1},{"panel":"Medium","layer":"L7","epoch":120,"f1":29.7},{"panel":"Medium","layer":"L7","epoch":125,"f1":29.7},{"panel":"Medium","layer":"L7","epoch":130,"f1":29.9},{"panel":"Medium","layer":"L7","epoch":131,"f1":30.1},
{"panel":"Medium","layer":"L8","epoch":5,"f1":28.95},{"panel":"Medium","layer":"L8","epoch":10,"f1":28.4},{"panel":"Medium","layer":"L8","epoch":15,"f1":27.6},{"panel":"Medium","layer":"L8","epoch":20,"f1":27.15},{"panel":"Medium","layer":"L8","epoch":25,"f1":26.95},{"panel":"Medium","layer":"L8","epoch":30,"f1":27.2},{"panel":"Medium","layer":"L8","epoch":35,"f1":27.6},{"panel":"Medium","layer":"L8","epoch":40,"f1":27.1},{"panel":"Medium","layer":"L8","epoch":45,"f1":27.45},{"panel":"Medium","layer":"L8","epoch":50,"f1":27.75},{"panel":"Medium","layer":"L8","epoch":55,"f1":28.2},{"panel":"Medium","layer":"L8","epoch":60,"f1":28.45},{"panel":"Medium","layer":"L8","epoch":65,"f1":28.45},{"panel":"Medium","layer":"L8","epoch":70,"f1":28.55},{"panel":"Medium","layer":"L8","epoch":75,"f1":28.35},{"panel":"Medium","layer":"L8","epoch":80,"f1":28.35},{"panel":"Medium","layer":"L8","epoch":85,"f1":28.25},{"panel":"Medium","layer":"L8","epoch":90,"f1":28.1},{"panel":"Medium","layer":"L8","epoch":95,"f1":27.8},{"panel":"Medium","layer":"L8","epoch":100,"f1":27.45},{"panel":"Medium","layer":"L8","epoch":105,"f1":27.4},{"panel":"Medium","layer":"L8","epoch":110,"f1":26.95},{"panel":"Medium","layer":"L8","epoch":115,"f1":27.15},{"panel":"Medium","layer":"L8","epoch":120,"f1":27.0},{"panel":"Medium","layer":"L8","epoch":125,"f1":26.95},{"panel":"Medium","layer":"L8","epoch":130,"f1":26.95},{"panel":"Medium","layer":"L8","epoch":131,"f1":27.25},
{"panel":"Medium","layer":"final","epoch":5,"f1":27.25},{"panel":"Medium","layer":"final","epoch":10,"f1":27.0},{"panel":"Medium","layer":"final","epoch":15,"f1":26.65},{"panel":"Medium","layer":"final","epoch":20,"f1":26.6},{"panel":"Medium","layer":"final","epoch":25,"f1":26.6},{"panel":"Medium","layer":"final","epoch":30,"f1":26.65},{"panel":"Medium","layer":"final","epoch":35,"f1":26.75},{"panel":"Medium","layer":"final","epoch":40,"f1":26.85},{"panel":"Medium","layer":"final","epoch":45,"f1":27.0},{"panel":"Medium","layer":"final","epoch":50,"f1":27.2},{"panel":"Medium","layer":"final","epoch":55,"f1":27.6},{"panel":"Medium","layer":"final","epoch":60,"f1":27.75},{"panel":"Medium","layer":"final","epoch":65,"f1":27.9},{"panel":"Medium","layer":"final","epoch":70,"f1":28.1},{"panel":"Medium","layer":"final","epoch":75,"f1":28.25},{"panel":"Medium","layer":"final","epoch":80,"f1":28.4},{"panel":"Medium","layer":"final","epoch":85,"f1":28.7},{"panel":"Medium","layer":"final","epoch":90,"f1":28.9},{"panel":"Medium","layer":"final","epoch":95,"f1":28.9},{"panel":"Medium","layer":"final","epoch":100,"f1":28.8},{"panel":"Medium","layer":"final","epoch":105,"f1":28.65},{"panel":"Medium","layer":"final","epoch":110,"f1":28.85},{"panel":"Medium","layer":"final","epoch":115,"f1":28.85},{"panel":"Medium","layer":"final","epoch":120,"f1":28.7},{"panel":"Medium","layer":"final","epoch":125,"f1":28.55},{"panel":"Medium","layer":"final","epoch":130,"f1":28.4},{"panel":"Medium","layer":"final","epoch":131,"f1":28.35}
]
},
"concat":[
 {"width":390,"height":228,"title":"Tiny (0.4M) \u00a0—\u00a0 best: L2",
  "layer":[
   {"data":{"name":"curves"},"transform":[{"filter":"datum.panel === 'Tiny' && datum.layer !== 'L2'"}],"mark":{"type":"line","strokeWidth":1.5,"opacity":0.9},
    "encoding":{"x":{"field":"epoch","type":"quantitative","scale":{"domain":[0,154],"nice":false},"axis":{"values":[0,20,40,60,80,100,120,140],"title":"Pre-training epoch"}},
     "y":{"field":"f1","type":"quantitative","scale":{"domain":[5,35],"nice":false},"axis":{"values":[5,10,15,20,25,30,35],"tickCount":12,"title":"Probe F1 (%)"}},
     "color":{"field":"layer","type":"nominal","scale":{"domain":["emb","L1","L2","final"],"range":["#482475","#2d708e","#2ab07f","#bddf26"]},"legend":null}}},
   {"data":{"name":"curves"},"transform":[{"filter":"datum.panel === 'Tiny' && datum.layer === 'L2'"}],"mark":{"type":"line","strokeWidth":3.5,"opacity":0.9},
    "encoding":{"x":{"field":"epoch","type":"quantitative"},"y":{"field":"f1","type":"quantitative"},"color":{"field":"layer","type":"nominal","legend":null}}},
   {"data":{"name":"labels"},"transform":[{"filter":"datum.panel === 'Tiny' && datum.layer !== 'L2'"}],"mark":{"type":"text","align":"left","baseline":"middle","dx":6,"fontSize":10.5,"opacity":0.9},
    "encoding":{"x":{"value":"width"},"y":{"field":"f1","type":"quantitative"},"text":{"field":"layer"},"color":{"field":"layer","type":"nominal","legend":null}}},
   {"data":{"name":"labels"},"transform":[{"filter":"datum.panel === 'Tiny' && datum.layer === 'L2'"}],"mark":{"type":"text","align":"left","baseline":"middle","dx":6,"fontSize":11.5,"fontWeight":"bold","opacity":0.9},
    "encoding":{"x":{"value":"width"},"y":{"field":"f1","type":"quantitative"},"text":{"field":"layer"},"color":{"field":"layer","type":"nominal","legend":null}}}
  ]},
 {"width":390,"height":228,"title":"Small (3.2M) \u00a0—\u00a0 best: final",
  "layer":[
   {"data":{"name":"curves"},"transform":[{"filter":"datum.panel === 'Small' && datum.layer !== 'final'"}],"mark":{"type":"line","strokeWidth":1.5,"opacity":0.9},
    "encoding":{"x":{"field":"epoch","type":"quantitative","scale":{"domain":[0,154],"nice":false},"axis":{"values":[0,20,40,60,80,100,120,140],"title":"Pre-training epoch"}},
     "y":{"field":"f1","type":"quantitative","scale":{"domain":[5,35],"nice":false},"axis":{"values":[5,10,15,20,25,30,35],"tickCount":12,"title":null}},
     "color":{"field":"layer","type":"nominal","scale":{"domain":["emb","L1","L2","L3","L4","final"],"range":["#482475","#3a548c","#277f8e","#1fa287","#58c765","#bddf26"]},"legend":null}}},
   {"data":{"name":"curves"},"transform":[{"filter":"datum.panel === 'Small' && datum.layer === 'final'"}],"mark":{"type":"line","strokeWidth":3.5,"opacity":0.9},
    "encoding":{"x":{"field":"epoch","type":"quantitative"},"y":{"field":"f1","type":"quantitative"},"color":{"field":"layer","type":"nominal","legend":null}}},
   {"data":{"name":"labels"},"transform":[{"filter":"datum.panel === 'Small' && datum.layer !== 'final'"}],"mark":{"type":"text","align":"left","baseline":"middle","dx":6,"fontSize":10.5,"opacity":0.9},
    "encoding":{"x":{"value":"width"},"y":{"field":"f1","type":"quantitative"},"text":{"field":"layer"},"color":{"field":"layer","type":"nominal","legend":null}}},
   {"data":{"name":"labels"},"transform":[{"filter":"datum.panel === 'Small' && datum.layer === 'final'"}],"mark":{"type":"text","align":"left","baseline":"middle","dx":6,"fontSize":11.5,"fontWeight":"bold","opacity":0.9},
    "encoding":{"x":{"value":"width"},"y":{"field":"f1","type":"quantitative"},"text":{"field":"layer"},"color":{"field":"layer","type":"nominal","legend":null}}}
  ]},
 {"width":390,"height":228,"title":"Base (18.9M) \u00a0—\u00a0 best: L5",
  "layer":[
   {"data":{"name":"curves"},"transform":[{"filter":"datum.panel === 'Base' && datum.layer !== 'L5'"}],"mark":{"type":"line","strokeWidth":1.5,"opacity":0.9},
    "encoding":{"x":{"field":"epoch","type":"quantitative","scale":{"domain":[0,164],"nice":false},"axis":{"values":[0,20,40,60,80,100,120,140,160],"title":"Pre-training epoch"}},
     "y":{"field":"f1","type":"quantitative","scale":{"domain":[5,35],"nice":false},"axis":{"values":[5,10,15,20,25,30,35],"tickCount":12,"title":"Probe F1 (%)"}},
     "color":{"field":"layer","type":"nominal","scale":{"domain":["emb","L1","L2","L3","L4","L5","L6","final"],"range":["#482475","#3f4889","#32668e","#26828e","#1f9e89","#35b779","#73d056","#bddf26"]},"legend":null}}},
   {"data":{"name":"curves"},"transform":[{"filter":"datum.panel === 'Base' && datum.layer === 'L5'"}],"mark":{"type":"line","strokeWidth":3.5,"opacity":0.9},
    "encoding":{"x":{"field":"epoch","type":"quantitative"},"y":{"field":"f1","type":"quantitative"},"color":{"field":"layer","type":"nominal","legend":null}}},
   {"data":{"name":"labels"},"transform":[{"filter":"datum.panel === 'Base' && datum.layer !== 'L5'"}],"mark":{"type":"text","align":"left","baseline":"middle","dx":6,"fontSize":10.5,"opacity":0.9},
    "encoding":{"x":{"value":"width"},"y":{"field":"f1","type":"quantitative"},"text":{"field":"layer"},"color":{"field":"layer","type":"nominal","legend":null}}},
   {"data":{"name":"labels"},"transform":[{"filter":"datum.panel === 'Base' && datum.layer === 'L5'"}],"mark":{"type":"text","align":"left","baseline":"middle","dx":6,"fontSize":11.5,"fontWeight":"bold","opacity":0.9},
    "encoding":{"x":{"value":"width"},"y":{"field":"f1","type":"quantitative"},"text":{"field":"layer"},"color":{"field":"layer","type":"nominal","legend":null}}}
  ]},
 {"width":390,"height":228,"title":"Medium (56.7M) \u00a0—\u00a0 best: L7",
  "layer":[
   {"data":{"name":"curves"},"transform":[{"filter":"datum.panel === 'Medium' && datum.layer !== 'L7'"}],"mark":{"type":"line","strokeWidth":1.5,"opacity":0.9},
    "encoding":{"x":{"field":"epoch","type":"quantitative","scale":{"domain":[0,133.6],"nice":false},"axis":{"values":[0,20,40,60,80,100,120],"title":"Pre-training epoch"}},
     "y":{"field":"f1","type":"quantitative","scale":{"domain":[5,35],"nice":false},"axis":{"values":[5,10,15,20,25,30,35],"tickCount":12,"title":null}},
     "color":{"field":"layer","type":"nominal","scale":{"domain":["emb","L1","L2","L3","L4","L5","L6","L7","L8","final"],"range":["#482475","#424086","#38598c","#2d708e","#25858e","#1f9a8a","#2ab07f","#4ec36b","#81d34d","#bddf26"]},"legend":null}}},
   {"data":{"name":"curves"},"transform":[{"filter":"datum.panel === 'Medium' && datum.layer === 'L7'"}],"mark":{"type":"line","strokeWidth":3.5,"opacity":0.9},
    "encoding":{"x":{"field":"epoch","type":"quantitative"},"y":{"field":"f1","type":"quantitative"},"color":{"field":"layer","type":"nominal","legend":null}}},
   {"data":{"name":"labels"},"transform":[{"filter":"datum.panel === 'Medium' && datum.layer !== 'L7'"}],"mark":{"type":"text","align":"left","baseline":"middle","dx":6,"fontSize":10.5,"opacity":0.9},
    "encoding":{"x":{"value":"width"},"y":{"field":"f1","type":"quantitative"},"text":{"field":"layer"},"color":{"field":"layer","type":"nominal","legend":null}}},
   {"data":{"name":"labels"},"transform":[{"filter":"datum.panel === 'Medium' && datum.layer === 'L7'"}],"mark":{"type":"text","align":"left","baseline":"middle","dx":6,"fontSize":11.5,"fontWeight":"bold","opacity":0.9},
    "encoding":{"x":{"value":"width"},"y":{"field":"f1","type":"quantitative"},"text":{"field":"layer"},"color":{"field":"layer","type":"nominal","legend":null}}}
  ]}
]
}
